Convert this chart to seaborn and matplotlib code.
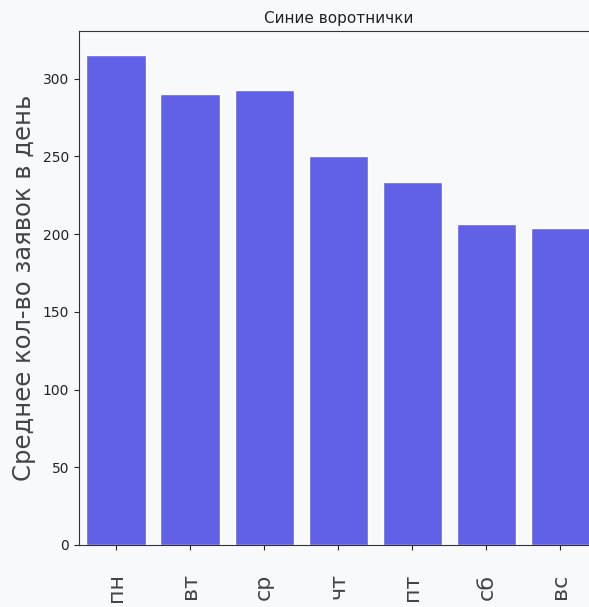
import matplotlib
matplotlib.use('Agg')
import matplotlib.pyplot as plt
import seaborn as sns
import pandas as pd

days = ['пн', 'вт', 'ср', 'чт', 'пт', 'сб', 'вс']
mean_requests = [315, 290, 293, 250.5, 233.3, 206.5, 204]

bg = '#f8f9fb'
sns.set_style('ticks')
plt.rcParams['font.family'] = ['DejaVu Sans']
plt.rcParams['figure.facecolor'] = bg
plt.rcParams['axes.facecolor'] = bg

df = pd.DataFrame({'day': days, 'value': mean_requests})

fig = plt.figure(figsize=(5.89, 6.07), dpi=100)
# axes run a bit past the right edge of the image, as in the reference
ax = fig.add_axes([79 / 589, 62 / 607, 518.5 / 589, 514 / 607])

sns.barplot(data=df, x='day', y='value', color='#6161e8', saturation=1,
            width=0.8, ax=ax)

ax.set_title('Синие воротнички', fontsize=11, color='#222222')
ax.set_xlabel('')
ax.set_ylabel('Среднее кол-во заявок в день', fontsize=17.5, color='#444444',
              labelpad=5)
ax.tick_params(axis='x', labelrotation=90, labelsize=16, labelcolor='#444444',
               pad=17)
ax.tick_params(axis='y', labelsize=10, labelcolor='#222222')
for s in ax.spines.values():
    s.set_color('#333333')

fig.savefig('out.png', dpi=100, facecolor=bg)
